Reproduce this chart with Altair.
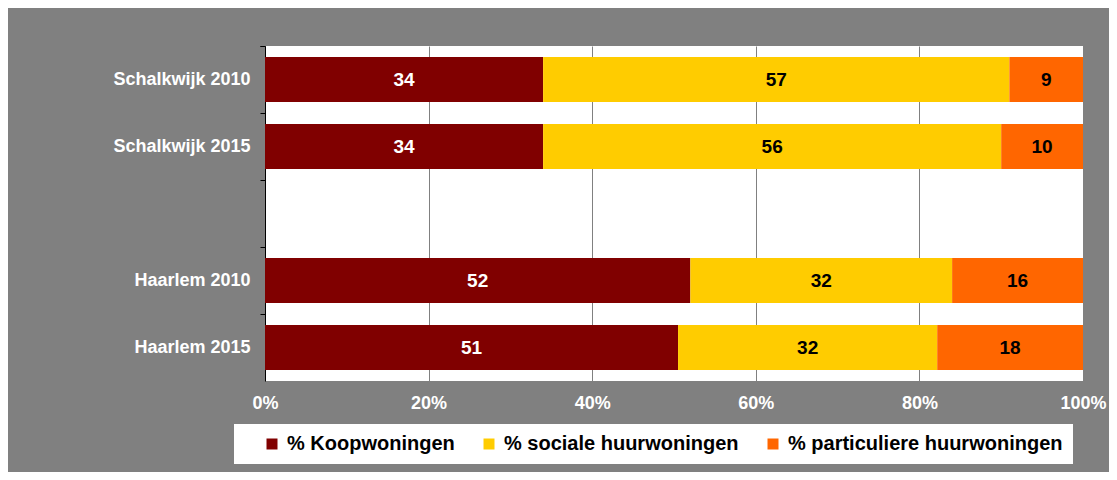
import altair as alt
import pandas as pd

categories = ["Schalkwijk 2010", "Schalkwijk 2015", "Haarlem 2010", "Haarlem 2015"]
row_order = ["Schalkwijk 2010", "Schalkwijk 2015", " ", "Haarlem 2010", "Haarlem 2015"]
series = ["% Koopwoningen", "% sociale huurwoningen", "% particuliere huurwoningen"]
koop = [34, 34, 52, 51]
sociaal = [57, 56, 32, 32]
particulier = [9, 10, 16, 18]
colors = ["#800000", "#FFCC00", "#FF6600"]

rows = []
for i, c in enumerate(categories):
    for j, (s, vals) in enumerate(zip(series, [koop, sociaal, particulier])):
        rows.append({"cat": c, "type": s, "order": j, "value": vals[i]})
df = pd.DataFrame(rows)

base = alt.Chart(df).transform_stack(
    stack="value", groupby=["cat"], as_=["v0", "v1"], offset="normalize",
    sort=[alt.SortField("order", order="ascending")]
).transform_calculate(mid="(datum.v0 + datum.v1) / 2")

yenc = alt.Y("cat:N", scale=alt.Scale(domain=row_order, paddingInner=0.33, paddingOuter=0.165),
             axis=alt.Axis(title=None, bandPosition=0, tickOffset=-11, labelOffset=11,
                           tickExtra=True, labelColor="white",
                           labelFontWeight="bold", labelFontSize=18, labelPadding=10,
                           tickColor="black", domainColor="black", tickSize=5, grid=False))

bars = base.mark_bar().encode(
    x=alt.X("v0:Q", scale=alt.Scale(domain=[0, 1], nice=False),
            axis=alt.Axis(title=None, values=[0, 0.2, 0.4, 0.6, 0.8, 1], format="%",
                          labelColor="white", labelFontWeight="bold", labelFontSize=18,
                          labelPadding=8, labelFlush=False, domainColor="#808080",
                          tickColor="#808080", tickSize=5, gridColor="#808080", grid=True)),
    x2="v1:Q",
    y=yenc,
    color=alt.Color("type:N", scale=alt.Scale(domain=series, range=colors),
                    legend=alt.Legend(title=None, orient="none", legendX=-31, legendY=378,
                                      direction="horizontal", fillColor="white", padding=10,
                                      symbolType="square", symbolSize=121, symbolStrokeWidth=0,
                                      labelFontSize=20, labelFontWeight="bold", labelColor="black",
                                      labelLimit=500, columnPadding=6, symbolOffset=18,
                                      labelOffset=5)),
)

labels = base.mark_text(fontWeight="bold", fontSize=19).encode(
    x="mid:Q",
    y=alt.Y("cat:N", scale=alt.Scale(domain=row_order)),
    text="value:Q",
    color=alt.condition(alt.datum.type == "% Koopwoningen", alt.value("white"), alt.value("black")),
)

chart = alt.layer(bars, labels).properties(
    width=818, height=335,
    background="#808080",
    padding={"left": 257, "top": 38, "right": 26, "bottom": 91},
    autosize=alt.AutoSizeParams(type="none"),
).configure(font="Liberation Sans").configure_view(fill="white", stroke=None)

chart.save("out.html", embed_options={"renderer": "svg", "actions": False})
